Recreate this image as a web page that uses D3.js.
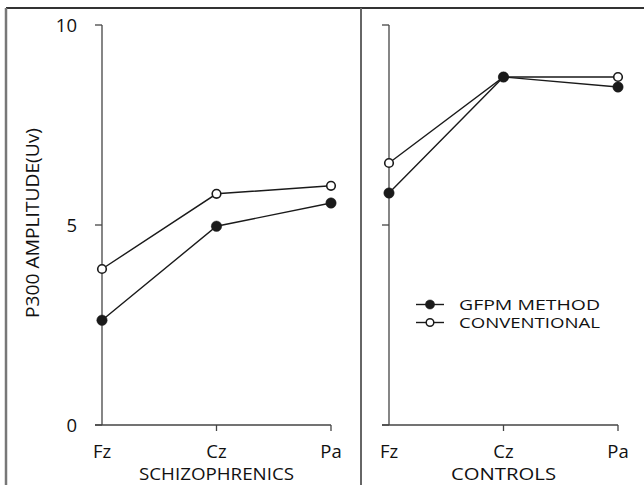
<!DOCTYPE html>
<html>
<head>
<meta charset="utf-8">
<script src="https://cdn.jsdelivr.net/npm/d3@7/dist/d3.min.js"></script>
<style>
  html, body { margin: 0; padding: 0; background: #fff; }
  svg { display: block; }
  text { font-family: "Open Sans", "DejaVu Sans", sans-serif; fill: #111; }
</style>
</head>
<body>
<svg id="chart" width="644" height="485"></svg>
<script>
// Electrode sites along x
const sites = ['Fz', 'Cz', 'Pa'];
const yTicks = [0, 5, 10];

// P300 amplitude (uV)
const schizoGfpm = [2.62, 4.97, 5.55];
const schizoConv = [3.9, 5.78, 5.98];
const controlGfpm = [5.8, 8.7, 8.45];
const controlConv = [6.55, 8.7, 8.7];

const panels = [
  { title: 'SCHIZOPHRENICS', titleW: 155, x0: 102, x1: 331, gfpm: schizoGfpm, conv: schizoConv, labels: true },
  { title: 'CONTROLS', titleW: 105, x0: 389, x1: 618, gfpm: controlGfpm, conv: controlConv, labels: false }
];

const svg = d3.select('#chart');
const ink = '#1a1a1a';

// Outer frame (runs off the right/bottom edge of the picture)
svg.append('line').attr('x1', 6).attr('x2', 644).attr('y1', 8).attr('y2', 8)
  .attr('stroke', '#333').attr('stroke-width', 2);
svg.append('line').attr('x1', 6).attr('x2', 6).attr('y1', 8).attr('y2', 485)
  .attr('stroke', '#777').attr('stroke-width', 2.5);
svg.append('line').attr('x1', 361).attr('x2', 361).attr('y1', 8).attr('y2', 485)
  .attr('stroke', '#666').attr('stroke-width', 2);

const y = d3.scaleLinear().domain([0, 10]).range([425, 25]);

panels.forEach(p => {
  const x = d3.scalePoint().domain(sites).range([p.x0, p.x1]);
  const g = svg.append('g');

  // y axis: vertical line with ticks to the left
  g.append('line').attr('x1', p.x0).attr('x2', p.x0).attr('y1', y(10)).attr('y2', y(0))
    .attr('stroke', '#444').attr('stroke-width', 1.3);
  yTicks.forEach(t => {
    g.append('line').attr('x1', p.x0 - 7).attr('x2', p.x0).attr('y1', y(t)).attr('y2', y(t))
      .attr('stroke', '#444').attr('stroke-width', 1.3);
    if (p.labels) {
      g.append('text').attr('x', 77).attr('y', y(t)).attr('dy', '0.36em')
        .attr('text-anchor', 'end').attr('font-size', 18.5).text(t);
    }
  });

  // x axis: baseline with ticks pointing down
  g.append('line').attr('x1', p.x0 - 7).attr('x2', p.x1).attr('y1', y(0)).attr('y2', y(0))
    .attr('stroke', '#444').attr('stroke-width', 1.3);
  sites.slice(1).forEach(s => {
    g.append('line').attr('x1', x(s)).attr('x2', x(s)).attr('y1', y(0)).attr('y2', y(0) + 6)
      .attr('stroke', '#444').attr('stroke-width', 1.3);
  });
  sites.forEach(s => {
    g.append('text').attr('x', x(s)).attr('y', 451).attr('dy', '0.36em')
      .attr('text-anchor', 'middle').attr('font-size', 18.5).text(s);
  });
  g.append('text').attr('x', x('Cz')).attr('y', 474).attr('dy', '0.36em')
    .attr('text-anchor', 'middle').attr('font-size', 16)
    .attr('textLength', p.titleW).attr('lengthAdjust', 'spacingAndGlyphs').text(p.title);

  const line = d3.line().x((d, i) => x(sites[i])).y(d => y(d));

  [['conv', p.conv], ['gfpm', p.gfpm]].forEach(([kind, vals]) => {
    g.append('path').attr('d', line(vals)).attr('fill', 'none')
      .attr('stroke', ink).attr('stroke-width', 1.4);
    g.selectAll('circle.' + kind).data(vals).enter().append('circle')
      .attr('class', kind)
      .attr('cx', (d, i) => x(sites[i])).attr('cy', d => y(d))
      .attr('r', kind === 'gfpm' ? 5.2 : 4.3)
      .attr('fill', kind === 'gfpm' ? ink : '#fff')
      .attr('stroke', ink).attr('stroke-width', kind === 'gfpm' ? 0.5 : 1.6);
  });
});

// y axis title
svg.append('text')
  .attr('transform', 'translate(33,223) rotate(-90)')
  .attr('dy', '0.36em').attr('text-anchor', 'middle').attr('font-size', 17.5)
  .attr('textLength', 190).attr('lengthAdjust', 'spacingAndGlyphs')
  .text('P300  AMPLITUDE(Uv)');

// legend
const legend = [
  { label: 'GFPM  METHOD', filled: true, y: 304.5 },
  { label: 'CONVENTIONAL', filled: false, y: 322.5 }
];
const lg = svg.append('g');
legend.forEach(l => {
  lg.append('line').attr('x1', 416).attr('x2', 444).attr('y1', l.y).attr('y2', l.y)
    .attr('stroke', ink).attr('stroke-width', 1.4);
  lg.append('circle').attr('cx', 430).attr('cy', l.y).attr('r', l.filled ? 4.6 : 3.8)
    .attr('fill', l.filled ? ink : '#fff').attr('stroke', ink)
    .attr('stroke-width', l.filled ? 0.5 : 1.5);
  lg.append('text').attr('x', 459).attr('y', l.y).attr('dy', '0.36em')
    .attr('font-size', 14.5).attr('textLength', 141).attr('lengthAdjust', 'spacingAndGlyphs')
    .text(l.label);
});
</script>
</body>
</html>
